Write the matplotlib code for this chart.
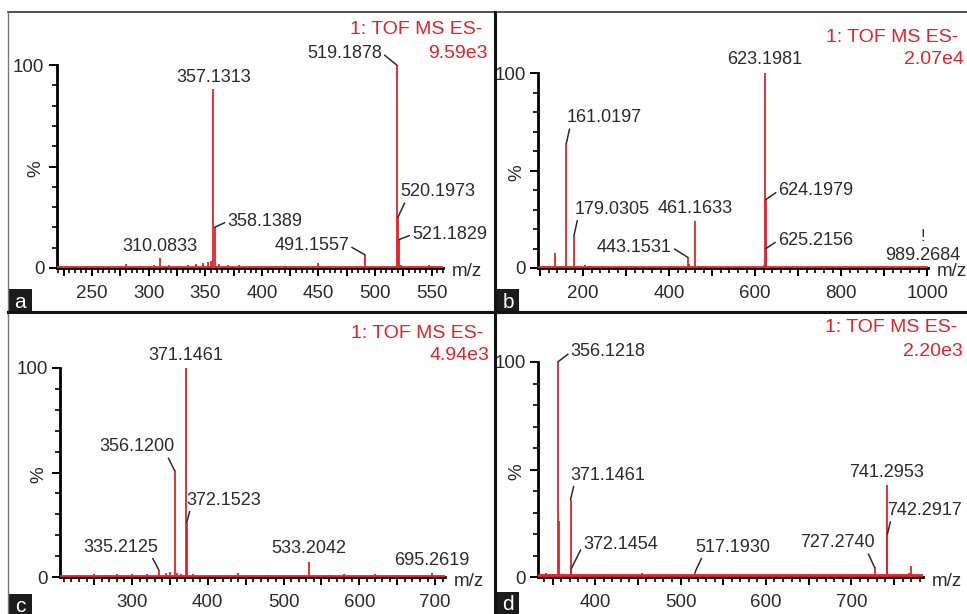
import matplotlib.pyplot as plt
from matplotlib.patches import Rectangle
from matplotlib.lines import Line2D
from matplotlib.ticker import MultipleLocator, FuncFormatter

plt.rcParams['font.family'] = ['Liberation Sans', 'DejaVu Sans']

W, H = 967, 614
RED = '#e52229'
INK = '#2b2b2b'

# ---- spectrum data (m/z, relative intensity %) ----
a_mz = [232, 280.0, 305, 310.0833, 318, 335, 342, 348, 352, 355, 357.1313, 358.1389,
        362, 370, 380, 420, 450.0, 491.1557, 519.1878, 520.1973, 521.1829, 523, 530, 540, 548]
a_int = [1.0, 2.0, 1.5, 5.0, 1.5, 1.5, 2.0, 2.5, 3.0, 3.5, 88, 20,
         2.0, 1.5, 1.5, 1.0, 2.5, 6.5, 100, 25, 14, 1.5, 1.0, 1.0, 1.5]
a_labels = [310.0833, 357.1313, 358.1389, 491.1557, 519.1878, 520.1973, 521.1829]

b_mz = [110, 120, 135, 150, 161.0197, 179.0305, 205, 215, 320, 443.1531, 447,
        461.1633, 470, 478, 620, 623.1981, 624.1979, 625.2156, 989.2684]
b_int = [1.0, 1.0, 7.5, 1.0, 64, 17, 1.5, 1.0, 0.5, 5.5, 2.0,
         24, 1.0, 1.0, 1.5, 100, 35, 10, 0.5]
b_labels = [161.0197, 179.0305, 443.1531, 461.1633, 623.1981, 624.1979, 625.2156, 989.2684]

c_mz = [230, 250, 265, 280, 300, 320, 335.2125, 345, 350, 356.1200, 360, 365,
        371.1461, 372.1523, 380, 400, 440, 480, 533.2042, 560, 580, 620, 650, 695.2619]
c_int = [1.0, 1.5, 1.0, 1.2, 1.5, 1.5, 3.5, 2.0, 2.5, 51, 2.0, 1.5,
         100, 26, 1.5, 1.0, 2.0, 1.0, 7.0, 1.0, 1.5, 1.5, 1.0, 2.0]
c_labels = [335.2125, 356.1200, 371.1461, 372.1523, 533.2042, 695.2619]

d_mz = [338, 342, 346, 350, 356.1218, 357.1, 362, 371.1461, 372.1454, 380, 390, 400,
        455, 470, 500, 517.1930, 530, 560, 600, 620, 650, 680, 700, 715,
        727.2740, 741.2953, 742.2917, 750, 768, 770.5]
d_int = [1.5, 1.8, 1.5, 1.2, 100, 26, 1.5, 36, 4.0, 1.2, 1.0, 1.2,
         2.0, 1.0, 1.0, 2.5, 1.0, 1.2, 1.0, 1.0, 1.2, 1.0, 1.0, 1.5,
         4.5, 43, 20, 1.0, 2.0, 5.0]
d_labels = [356.1218, 371.1461, 372.1454, 517.1930, 727.2740, 741.2953, 742.2917]

headers = ['9.59e3', '2.07e4', '4.94e3', '2.20e3']
letters = ['a', 'b', 'c', 'd']

# label placement: (dx px, dy px, ha, va, leader relpos or None)
a_lay = [(0, 3, 'center', 'bottom', None), (0, 3, 'center', 'bottom', None),
         (13, 6, 'left', 'center', (0, 0.5)), (-16, 9, 'right', 'center', (1, 0.5)),
         (-15, 12, 'right', 'center', (1, 0.5)), (2, 17, 'left', 'bottom', (0.08, 0)),
         (13, 5, 'left', 'center', (0, 0.5))]
b_lay = [(0, 17, 'left', 'bottom', (0.05, 0)), (0, 17, 'left', 'bottom', (0.05, 0)),
         (-16, 10, 'right', 'center', (1, 0.5)), (0, 4, 'center', 'bottom', None),
         (0, 5, 'center', 'bottom', None), (13, 9, 'left', 'center', (0, 0.5)),
         (12, 8, 'left', 'center', (0, 0.5)), (0, 3, 'center', 'bottom', None)]
c_lay = [(0, 14, 'right', 'bottom', (0.9, 0)), (0, 15, 'right', 'bottom', (0.9, 0)),
         (0, 4, 'center', 'bottom', None), (0, 14, 'left', 'bottom', (0.05, 0)),
         (0, 5, 'center', 'bottom', None), (0, 4, 'center', 'bottom', None)]
d_lay = [(13, 10, 'left', 'center', (0, 0.5)), (0, 16, 'left', 'bottom', (0.05, 0)),
         (12, 24, 'left', 'center', (0, 0.5)), (0, 16, 'left', 'bottom', (0.1, 0)),
         (0, 16, 'right', 'bottom', (0.9, 0)), (0, 4, 'center', 'bottom', None),
         (0, 15, 'left', 'bottom', (0.05, 0))]

fig = plt.figure(figsize=(W / 100, H / 100), dpi=100)


def fig_line(x0, y0, x1, y1, lw, color):
    fig.add_artist(Line2D([x0 / W, x1 / W], [1 - y0 / H, 1 - y1 / H],
                          transform=fig.transFigure, lw=lw, color=color))


def draw_panel(box, xlim, steps, mz, inten, labels, lay, scale, letter, head_pos, box_pos):
    x0, x1, y100, y0 = box
    ax = fig.add_axes([x0 / W, 1 - y0 / H, (x1 - x0) / W, (y0 - y100) / H])
    ax.set_facecolor('none')
    ax.vlines(mz, 0, inten, color=RED, lw=1.3, clip_on=False, zorder=3)
    ax.axhline(0.7, color=RED, lw=2.0, zorder=3)
    ax.set_xlim(xlim)
    ax.set_ylim(0, 100)
    for s in ['top', 'right']:
        ax.spines[s].set_visible(False)
    for s in ['left', 'bottom']:
        ax.spines[s].set_linewidth(2)
        ax.spines[s].set_color('black')

    major, lab_step, minor = steps
    ax.xaxis.set_major_locator(MultipleLocator(major))
    ax.xaxis.set_minor_locator(MultipleLocator(minor))
    ax.xaxis.set_major_formatter(FuncFormatter(
        lambda v, p: '%d' % round(v) if round(v) % lab_step == 0 else ''))
    ax.set_yticks([0, 50, 100], ['0', '%', '100'])
    ax.get_yticklabels()[1].set_rotation(90)
    ax.yaxis.set_minor_locator(MultipleLocator(10))
    ax.tick_params(which='major', length=6, width=1.4, color='black', labelsize=13.5,
                   labelcolor=INK, pad=3)
    ax.tick_params(which='minor', length=3.8, width=1.2, color='black')
    ax.tick_params(axis='x', which='major', pad=6)

    ax.annotate('m/z', xy=(1, 0), xycoords='axes fraction', xytext=(9, -4),
                textcoords='offset pixels', ha='left', va='center', fontsize=13.5, color=INK)

    for m, (dx, dy, ha, va, rel) in zip(labels, lay):
        h = inten[mz.index(m)]
        props = None
        if rel is not None:
            props = dict(arrowstyle='-', color=INK, lw=1.1, shrinkA=0, shrinkB=0, relpos=rel)
        ax.annotate('%.4f' % m, xy=(m, h), xytext=(dx, dy), textcoords='offset pixels',
                    ha=ha, va=va, fontsize=13, color=INK, arrowprops=props,
                    annotation_clip=False)

    hx, hy = head_pos
    fig.text(hx / W, 1 - hy / H, '1: TOF MS ES-', ha='right', va='center',
             fontsize=14, color=RED)
    fig.text((hx + 6) / W, 1 - (hy + 23) / H, scale, ha='right', va='center',
             fontsize=14, color=RED)

    bx, by, bw, bh = box_pos
    fig.add_artist(Rectangle((bx / W, 1 - (by + bh) / H), bw / W, bh / H,
                             transform=fig.transFigure, fc='#1c1c1c', ec='none'))
    fig.text((bx + bw / 2) / W, 1 - (by + bh / 2) / H, letter, ha='center', va='center_baseline',
             fontsize=15, color='white')
    return ax


draw_panel((57, 443, 65, 268), (219, 560), (25, 50, 5), a_mz, a_int, a_labels, a_lay,
           headers[0], letters[0], (482, 30), (8, 289, 24, 23))
ax_b = draw_panel((538, 928, 73, 268), (95, 1002), (100, 200, 20), b_mz, b_int, b_labels, b_lay,
                  headers[1], letters[1], (958, 37), (497, 289, 22, 23))
draw_panel((60, 445, 368, 577), (205, 713), (50, 100, 10), c_mz, c_int, c_labels, c_lay,
           headers[2], letters[2], (483, 333), (8, 594, 24, 20))
draw_panel((538, 923, 362, 577), (333, 784), (50, 100, 10), d_mz, d_int, d_labels, d_lay,
           headers[3], letters[3], (957, 328), (497, 592, 22, 22))

# stray marker above the 989 label in panel b
ax_b.annotate('!', xy=(989.2684, 0.5), xytext=(0, 31), textcoords='offset pixels',
              ha='center', va='center', fontsize=12, color=INK)

# panel frame lines
fig_line(8, 12, 967, 12, 1.2, '#333333')
fig_line(8, 12, 8, 614, 1.0, '#777777')
fig_line(495, 12, 495, 614, 2.2, '#111111')
fig_line(8, 312, 967, 312, 2.2, '#111111')

fig.savefig('out.png', dpi=100)
